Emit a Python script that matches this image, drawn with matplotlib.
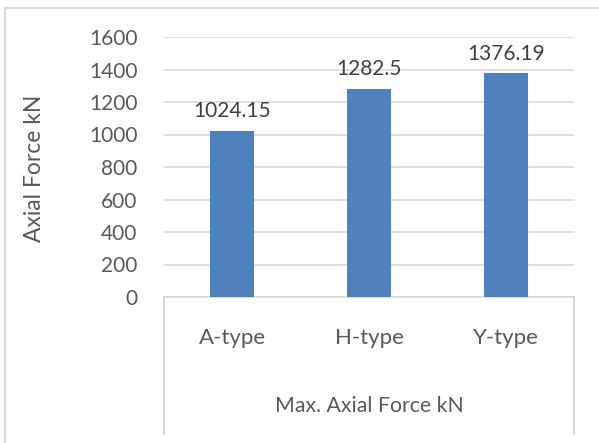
import matplotlib.pyplot as plt
from matplotlib.lines import Line2D

plt.rcParams['font.family'] = ['Lato', 'DejaVu Sans']

types = ['A-type', 'H-type', 'Y-type']
max_force = [1024.15, 1282.5, 1376.19]
value_labels = ['1024.15', '1282.5', '1376.19']

W, H = 599, 443
fig = plt.figure(figsize=(W / 100, H / 100), dpi=100)
ax = fig.add_axes([164 / W, 1 - 297 / H, 410 / W, 260 / H])

text_col = '#595959'
grid_col = '#d9d9d9'

bars = ax.bar(types, max_force, width=0.32, color='#4f81bd', zorder=3)
ax.bar_label(bars, labels=value_labels, padding=7, fontsize=15, color='#404040')

ax.set_ylim(0, 1600)
ax.set_xlim(-0.5, 2.5)
ax.set_yticks(range(0, 1601, 200))
ax.yaxis.grid(True, color=grid_col, linewidth=1.2, zorder=0)
ax.tick_params(axis='both', length=0, labelcolor=text_col)
ax.tick_params(axis='y', pad=19, labelsize=15)
ax.tick_params(axis='x', pad=22, labelsize=16)
for s in ['top', 'right', 'left']:
    ax.spines[s].set_visible(False)
ax.spines['bottom'].set_color(grid_col)
ax.spines['bottom'].set_linewidth(1.2)

fig.text(35 / W, 1 - 168 / H, 'Axial Force kN', rotation=90, ha='center', va='center',
         fontsize=16.5, color=text_col)
fig.text(369 / W, 1 - 406 / H, 'Max. Axial Force kN', ha='center', va='center',
         fontsize=15.3, color=text_col)

# field box under the category axis and the outer chart frame
def fline(xs, ys):
    fig.add_artist(Line2D([x / W for x in xs], [1 - y / H for y in ys],
                          color=grid_col, linewidth=1.5))

fline([164, 164], [297, 434])
fline([574, 574], [297, 434])
fline([5, 5], [8, 443])
fline([5, 599], [8, 8])

fig.savefig('out.png', dpi=100)
